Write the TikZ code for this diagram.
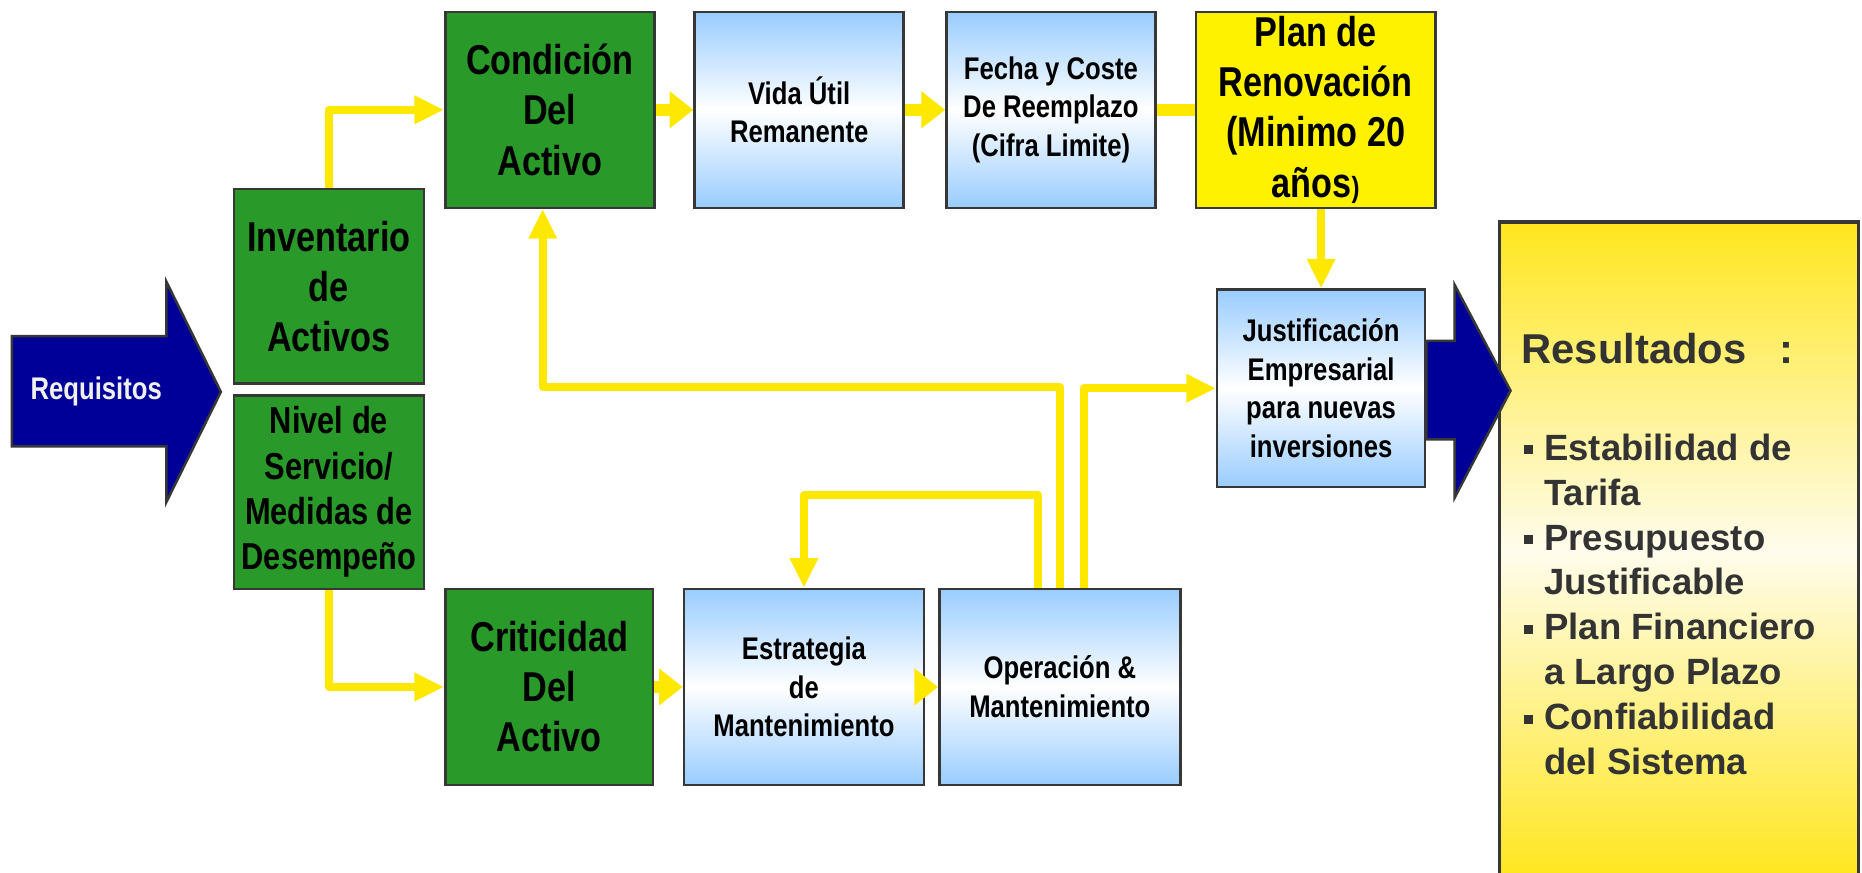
\documentclass[tikz,border=0pt]{standalone}
\usepackage{fontspec}
\setmainfont{Liberation Sans}
\newfontfamily\narrowfont[FakeStretch=0.82]{Liberation Sans}
\usetikzlibrary{arrows.meta}

\definecolor{boxgreen}{RGB}{41,153,41}
\definecolor{boxblue}{RGB}{153,204,255}
\definecolor{flowyellow}{RGB}{255,232,0}
\definecolor{reqblue}{RGB}{0,0,153}
\definecolor{edgegray}{RGB}{55,55,55}
\definecolor{resyellow}{RGB}{255,230,30}
\definecolor{rescream}{RGB}{255,252,236}
\definecolor{restext}{RGB}{51,51,51}

\newcommand{\resbullet}{\makebox[0.38cm][l]{\hspace{0.04cm}\rule[0.1cm]{0.15cm}{0.15cm}}}

\tikzset{
  box/.style={draw=edgegray, line width=1.2pt, inner sep=1pt, align=center},
  greenbox/.style={box, fill=boxgreen, font=\narrowfont\bfseries\fontsize{20}{24}\selectfont},
  bluebox/.style={box, top color=boxblue, bottom color=boxblue, middle color=white,
    font=\narrowfont\bfseries\fontsize{15}{18.5}\selectfont},
  yline/.style={draw=flowyellow, line width=3.8pt, line join=round,
    -{Triangle[length=0.5cm,width=0.45cm]}},
  ybar/.style={draw=flowyellow, line width=5.5pt, -{Triangle[length=0.4cm,width=0.6cm]}},
  blockarrow/.style={draw=edgegray, line width=1.2pt, fill=reqblue},
}

\begin{document}
\begin{tikzpicture}
\useasboundingbox (0,0) rectangle (31.36,14.7);

\draw[blockarrow] (0.2,9.04) -- (2.8,9.04) -- (2.8,9.96) -- (3.72,8.1) -- (2.8,6.24) -- (2.8,7.18) -- (0.2,7.18) -- cycle;
\node[text=white!94!black, font=\narrowfont\bfseries\fontsize{15}{18}\selectfont] (req) at (1.62,8.1) {Requisitos};

\node[greenbox, minimum width=3.2cm, minimum height=3.28cm] (inv) at (5.54,9.88) {Inventario\\de\\Activos};
\node[greenbox, minimum width=3.2cm, minimum height=3.26cm, font=\narrowfont\bfseries\fontsize{18}{21.7}\selectfont] (niv) at (5.54,6.41) {Nivel de\\Servicio/\\Medidas de\\Desempeño};

\node[greenbox, minimum width=3.52cm, minimum height=3.3cm] (cond) at (9.26,12.85) {Condición\\Del\\Activo};
\node[bluebox, minimum width=3.52cm, minimum height=3.3cm] (vida) at (13.46,12.85) {Vida Útil\\Remanente};
\node[bluebox, minimum width=3.52cm, minimum height=3.3cm] (fecha) at (17.7,12.85) {Fecha y Coste\\De Reemplazo\\(Cifra Limite)};
\node[greenbox, fill=yellow, minimum width=4.04cm, minimum height=3.3cm] (plan) at (22.16,12.85) {Plan de\\Renovación\\(Minimo 20\\años{\fontsize{14}{14}\selectfont)}};

\node[bluebox, minimum width=3.5cm, minimum height=3.32cm] (just) at (22.25,8.16) {Justificación\\Empresarial\\para nuevas\\inversiones};

\node[greenbox, minimum width=3.5cm, minimum height=3.3cm] (crit) at (9.25,3.13) {Criticidad\\Del\\Activo};
\node[bluebox, minimum width=4.04cm, minimum height=3.3cm] (estr) at (13.54,3.13) {Estrategia\\de\\Mantenimiento};
\node[bluebox, minimum width=4.06cm, minimum height=3.3cm] (op) at (17.85,3.13) {Operación \&\\Mantenimiento};

\node[draw=edgegray, line width=1.5pt, top color=resyellow, bottom color=resyellow, middle color=rescream,
  minimum width=6.04cm, minimum height=11.06cm, inner sep=0pt] (res) at (28.28,5.43) {};
\node[anchor=north west, align=left, inner sep=0pt, text=restext, font=\bfseries\fontsize{17.5}{21.5}\selectfont] (reslist) at (25.62,9.1)
  {{\fontsize{20}{21.5}\selectfont Resultados\hspace{0.55cm}:}\\[0.88cm]
   \resbullet Estabilidad de\\ \hspace*{0.38cm}Tarifa\\
   \resbullet Presupuesto\\ \hspace*{0.38cm}Justificable\\
   \resbullet Plan Financiero\\ \hspace*{0.38cm}a Largo Plazo\\
   \resbullet Confiabilidad\\ \hspace*{0.38cm}del Sistema};

\draw[blockarrow] (just.east |- 0,8.96) -- (24.5,8.96) -- (24.5,9.9) -- (25.44,8.12) -- (24.5,6.32) -- (24.5,7.3) -- (just.east |- 0,7.3) -- cycle;

\draw[yline] (inv.north) |- (cond.west);
\draw[ybar] (cond) -- (vida);
\draw[ybar] (vida) -- (fecha);
\draw[draw=flowyellow, line width=5.5pt] (fecha) -- (plan);
\draw[yline] (plan.south -| just.north) -- (just.north);

\draw[yline] (niv.south) |- (crit.west);
\draw[ybar] (crit) -- (estr);
\draw[ybar] (estr) -- (op);

\draw[yline] ([xshift=-0.37cm]op.north) -- ++(0,1.56) -| (estr.north);
\draw[yline] (op.north) -- ++(0,3.38) -| ([xshift=-0.12cm]cond.south);
\draw[yline] ([xshift=0.4cm]op.north) |- (just.west);
\end{tikzpicture}
\end{document}
